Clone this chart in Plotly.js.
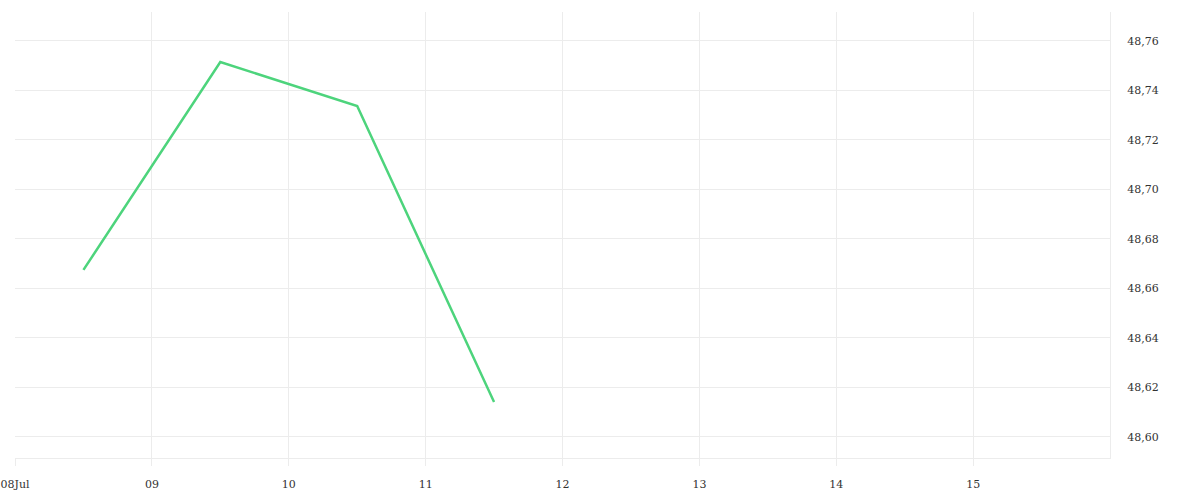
<!DOCTYPE html>
<html>
<head>
<meta charset="utf-8">
<script src="https://cdn.plot.ly/plotly-3.0.1.min.js"></script>
<style>
  html, body { margin: 0; padding: 0; background: #fff; }
  #chart { width: 1200px; height: 500px; }
</style>
</head>
<body>
<div id="chart"></div>
<script>
// series: one value per day, plotted at midday
let dates = ['2024-07-08 12:00', '2024-07-09 12:00', '2024-07-10 12:00', '2024-07-11 12:00'];
let values = [48.6675, 48.7515, 48.7337, 48.6141];

// x tick labels
let tickDates = ['2024-07-08', '2024-07-09', '2024-07-10', '2024-07-11', '2024-07-12', '2024-07-13', '2024-07-14', '2024-07-15'];
let tickLabels = ['08Jul', '09', '10', '11', '12', '13', '14', '15'];

let gridColor = '#ececec';

let trace = {
    type: 'scatter',
    mode: 'lines',
    x: dates,
    y: values,
    line: {color: '#4dd47c', width: 2.5},
    hoverinfo: 'skip'
};

let layout = {
    width: 1200,
    height: 500,
    margin: {l: 15, r: 90, t: 12, b: 42},
    paper_bgcolor: '#fff',
    plot_bgcolor: '#fff',
    separators: ',.',
    showlegend: false,
    font: {family: 'DejaVu Serif', size: 11, color: '#333'},
    xaxis: {
        type: 'date',
        range: ['2024-07-08', '2024-07-16'],
        tickmode: 'array',
        tickvals: tickDates,
        ticktext: tickLabels,
        showgrid: true,
        gridcolor: gridColor,
        showline: true,
        linecolor: gridColor,
        ticks: 'outside',
        ticklen: 7,
        tickcolor: gridColor,
        ticklabelstandoff: 9,
        zeroline: false
    },
    yaxis: {
        side: 'right',
        range: [48.5915, 48.7717],
        tickmode: 'linear',
        tick0: 48.60,
        dtick: 0.02,
        tickformat: '.2f',
        showgrid: true,
        gridcolor: gridColor,
        showline: true,
        linecolor: gridColor,
        ticks: 'outside',
        ticklen: 14,
        tickcolor: 'rgba(0,0,0,0)',
        zeroline: false
    }
};

Plotly.newPlot('chart', [trace], layout, {displayModeBar: false, staticPlot: true});
</script>
</body>
</html>
